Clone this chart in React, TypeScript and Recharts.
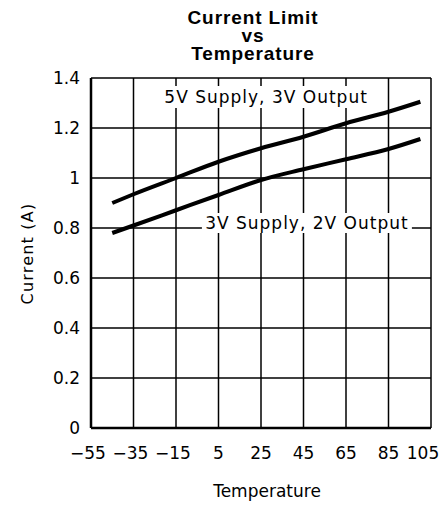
import React from 'react';
import { LineChart, Line, XAxis, YAxis, CartesianGrid, ReferenceDot } from 'recharts';

const temps5V = [-45, -35, -15, 5, 25, 45, 65, 85, 100];
const current5V = [0.9, 0.935, 1.0, 1.065, 1.119, 1.165, 1.219, 1.265, 1.305];
const temps3V = [-45, -35, -15, 5, 25, 45, 65, 85, 100];
const current3V = [0.78, 0.81, 0.871, 0.932, 0.992, 1.035, 1.075, 1.116, 1.156];
const xTicks = [-55, -35, -15, 5, 25, 45, 65, 85, 105];
const yTicks = [0, 0.2, 0.4, 0.6, 0.8, 1, 1.2, 1.4];
const titleLines = ['Current Limit', 'vs', 'Temperature'];
const xLabel = 'Temperature';
const yLabel = 'Current (A)';
const label5V = '5V Supply, 3V Output';
const label3V = '3V Supply, 2V Output';
const label5VPos = { t: 27.4, v: 1.324 };
const label3VPos = { t: 46.6, v: 0.82 };

const data5V = temps5V.map((t, i) => ({ t, v: current5V[i] }));
const data3V = temps3V.map((t, i) => ({ t, v: current3V[i] }));

const FONT = 'DejaVu Sans';

const BoxLabel = (text: string, w: number, h: number) => (props: any) => {
  const { viewBox } = props;
  const cx = viewBox.x + (viewBox.width || 0) / 2;
  const cy = viewBox.y + (viewBox.height || 0) / 2;
  return (
    <g>
      <rect x={cx - w / 2} y={cy - h / 2} width={w} height={h} fill="#fff" />
      <text x={cx} y={cy + 6} textAnchor="middle" fontFamily={FONT} fontSize={17} letterSpacing={1} fill="#000">
        {text}
      </text>
    </g>
  );
};

const XTick = (props: any) => {
  const { x, y, payload } = props;
  const last = payload.value === xTicks[xTicks.length - 1];
  return (
    <text x={last ? x - 5 : x - (payload.value < 0 ? 3 : 0)} y={y} dy={12} textAnchor="middle" fontFamily={FONT} fontSize={17} fill="#000">
      {String(payload.value).replace('-', '\u2212')}
    </text>
  );
};

const fmtY = (v: number) => (v === 0 || v === 1 ? String(v) : v.toFixed(1));

export default function App() {
  return (
    <div style={{ position: 'absolute', left: 0, top: 0, width: 440, height: 506, background: '#fff' }}>
      <LineChart width={440} height={506} margin={{ top: 78, right: 9, left: 31, bottom: 48 }} style={{ position: 'absolute', left: 0, top: 0 }}>
        <CartesianGrid stroke="#000" strokeWidth={1.5} />
        <XAxis
          dataKey="t"
          type="number"
          domain={[-55, 105]}
          ticks={xTicks}
          allowDuplicatedCategory={false}
          axisLine={{ stroke: '#000', strokeWidth: 2.5 }}
          tickLine={false}
          tickMargin={13}
          height={30}
          tick={<XTick />}
        />
        <YAxis
          type="number"
          domain={[0, 1.4]}
          ticks={yTicks}
          tickFormatter={fmtY}
          axisLine={{ stroke: '#000', strokeWidth: 2.5 }}
          tickLine={false}
          tickMargin={5}
          width={60}
          tick={{ fill: '#000', fontFamily: FONT, fontSize: 17 }}
        />
        <Line data={data5V} dataKey="v" stroke="#000" strokeWidth={4} dot={false} isAnimationActive={false} type="monotone" />
        <Line data={data3V} dataKey="v" stroke="#000" strokeWidth={4} dot={false} isAnimationActive={false} type="monotone" />
        <ReferenceDot x={label5VPos.t} y={label5VPos.v} r={0} label={BoxLabel(label5V, 208, 22)} />
        <ReferenceDot x={label3VPos.t} y={label3VPos.v} r={0} label={BoxLabel(label3V, 210, 20)} />
      </LineChart>
      <svg width={440} height={506} style={{ position: 'absolute', left: 0, top: 0, pointerEvents: 'none' }}>
        {titleLines.map((s, i) => (
          <text key={i} x={253} y={23.5 + i * 18.3} textAnchor="middle" fontFamily="Liberation Sans" fontWeight="bold" fontSize={19} letterSpacing={0.9} fill="#000">
            {s}
          </text>
        ))}
        <text x={267} y={497} textAnchor="middle" fontFamily={FONT} fontSize={17} fill="#000">{xLabel}</text>
        <text x={33} y={253.5} transform="rotate(-90 33 253.5)" textAnchor="middle" fontFamily={FONT} fontSize={16} letterSpacing={1.2} fill="#000">{yLabel}</text>
      </svg>
    </div>
  );
}
